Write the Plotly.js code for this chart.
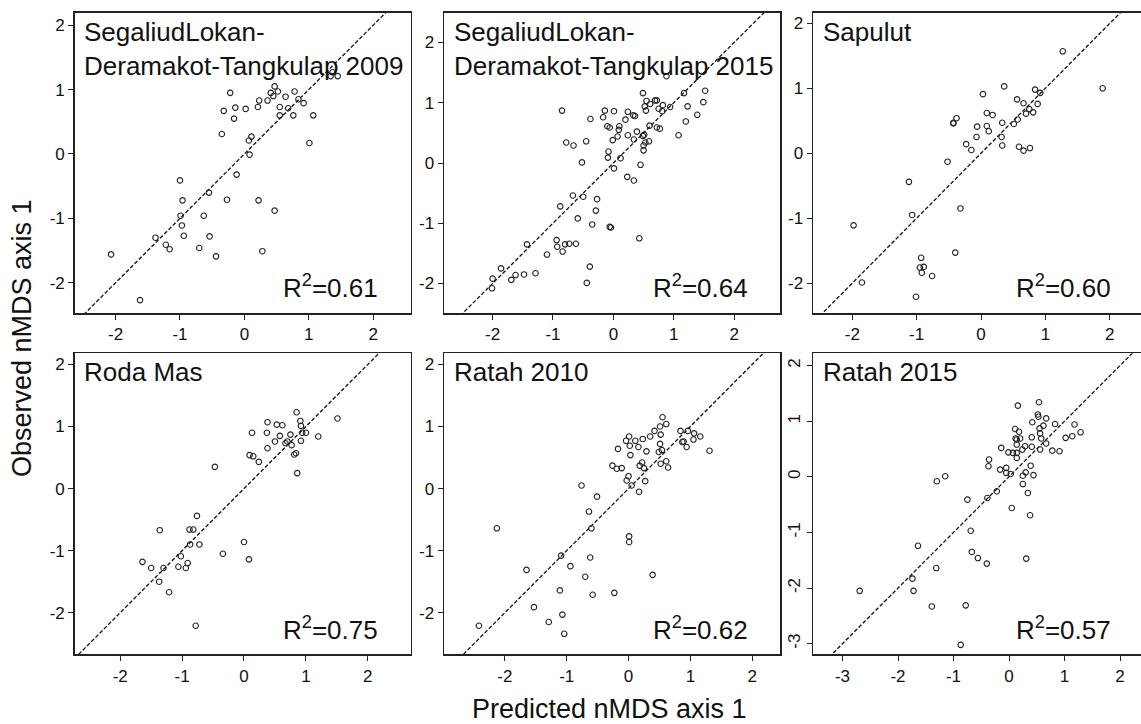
<!DOCTYPE html>
<html>
<head>
<meta charset="utf-8">
<script src="https://cdn.plot.ly/plotly-3.0.1.min.js"></script>
<style>
html,body{margin:0;padding:0;overflow:hidden;background:#fff;}
#chart{width:1150px;height:724px;}
</style>
</head>
<body>
<div id="chart"></div>
<script>
// Panel titles and R2 labels
const panelTitles = [
  "SegaliudLokan-<br>Deramakot-Tangkulap 2009",
  "SegaliudLokan-<br>Deramakot-Tangkulap 2015",
  "Sapulut",
  "Roda Mas",
  "Ratah 2010",
  "Ratah 2015"
];
const r2Values = ["0.61", "0.64", "0.60", "0.75", "0.62", "0.57"];

// Panel 1: SegaliudLokan-Deramakot-Tangkulap 2009 (predicted, observed)
const p1x = [-2.07,-1.62,-1.38,-1.22,-1.16,-1.00,-0.96,-0.99,-0.97,-0.94,-0.70,-0.63,-0.55,-0.54,-0.44,-0.35,-0.32,-0.22,-0.27,-0.16,-0.14,-0.12,0.07,0.11,0.08,0.02,0.21,0.23,0.22,0.28,0.36,0.41,0.45,0.47,0.52,0.47,0.55,0.55,0.64,0.68,0.76,0.78,0.84,0.92,1.01,1.07,1.34,1.45,1.37];
const p1y = [-1.56,-2.27,-1.30,-1.41,-1.48,-0.41,-0.72,-0.96,-1.11,-1.27,-1.46,-0.96,-0.60,-1.28,-1.59,0.31,0.67,0.95,-0.71,0.55,0.72,-0.32,0.21,0.27,-0.01,0.70,0.73,0.83,-0.72,-1.51,0.83,0.95,0.90,1.05,0.97,-0.88,0.73,0.60,0.89,0.71,0.60,0.97,0.85,0.79,0.17,0.60,1.21,1.21,1.27];

// Panel 2: SegaliudLokan-Deramakot-Tangkulap 2015
const p2x = [-2.00,-2.01,-1.86,-1.69,-1.62,-1.48,-1.29,-1.43,-1.10,-0.94,-0.93,-0.84,-0.80,-0.73,-0.62,-0.88,-0.85,-0.78,-0.66,-0.67,-0.50,-0.59,-0.52,-0.45,-0.38,-0.27,-0.29,-0.35,-0.39,-0.44,-0.17,-0.14,-0.10,-0.06,-0.08,-0.09,-0.06,-0.04,0.01,-0.01,0.01,0.07,0.09,0.10,0.12,0.20,0.24,0.24,0.23,0.33,0.36,0.34,0.34,0.39,0.45,0.49,0.49,0.51,0.50,0.50,0.52,0.55,0.54,0.53,0.59,0.60,0.61,0.69,0.72,0.72,0.77,0.75,0.82,0.81,0.88,0.94,1.08,1.17,1.20,1.23,1.39,1.49,1.52,0.43];
const p2y = [-1.92,-2.08,-1.75,-1.94,-1.86,-1.85,-1.83,-1.35,-1.52,-1.28,-1.39,-1.47,-1.35,-1.34,-1.34,-0.72,0.87,0.34,0.29,-0.54,-0.56,-0.92,0.01,0.36,0.73,-0.60,-0.79,-1.02,-1.72,-1.99,0.76,0.87,0.61,0.59,0.19,0.09,-1.06,-1.07,0.86,0.38,-0.09,0.44,0.55,0.61,0.08,0.72,0.85,0.46,-0.23,0.79,0.78,0.39,-0.29,0.52,-0.03,1.16,0.45,0.47,0.29,0.21,0.94,1.03,0.87,0.34,0.36,0.62,0.98,1.04,1.04,0.59,0.57,0.90,0.96,0.86,1.44,0.93,0.46,1.16,0.69,0.94,0.80,1.01,1.20,-1.25];

// Panel 3: Sapulut
const p3x = [-1.98,-1.85,-1.12,-1.07,-0.93,-0.95,-0.89,-0.92,-0.76,-1.01,-0.52,-0.43,-0.38,-0.32,-0.40,-0.23,-0.15,-0.07,-0.06,0.03,0.09,0.09,0.12,0.18,0.32,0.33,0.33,0.36,0.51,0.57,0.56,0.59,0.66,0.76,0.66,0.70,0.75,0.81,0.84,0.92,0.88,1.27,1.89,-0.43];
const p3y = [-1.11,-1.99,-0.44,-0.95,-1.61,-1.76,-1.75,-1.84,-1.89,-2.21,-0.13,0.46,0.54,-0.85,-1.53,0.14,0.05,0.25,0.41,0.91,0.62,0.42,0.34,0.59,0.25,0.12,0.47,1.03,0.45,0.52,0.83,0.10,0.04,0.08,0.77,0.61,0.68,0.63,0.98,0.93,0.76,1.57,1.00,0.47];

// Panel 4: Roda Mas
const p4x = [-1.64,-1.50,-1.36,-1.30,-1.37,-1.21,-1.06,-1.02,-0.94,-0.91,-0.88,-0.82,-0.87,-0.72,-0.76,-0.78,-0.47,-0.34,0.00,0.08,0.09,0.15,0.13,0.24,0.38,0.37,0.38,0.50,0.53,0.62,0.58,0.67,0.70,0.75,0.77,0.81,0.84,0.85,0.86,0.91,0.92,0.92,0.94,1.00,1.20,1.51];
const p4y = [-1.18,-1.28,-0.67,-1.28,-1.50,-1.67,-1.26,-1.09,-1.28,-1.20,-0.66,-0.66,-0.90,-0.90,-0.44,-2.21,0.35,-1.05,-0.86,-1.14,0.54,0.52,0.90,0.43,0.65,0.90,1.07,0.76,1.03,1.02,0.85,0.73,0.76,0.87,0.70,0.55,0.57,1.23,0.25,1.09,1.01,0.77,0.90,0.90,0.84,1.13];

// Panel 5: Ratah 2010
const p5x = [-2.42,-2.13,-1.65,-1.53,-1.29,-1.11,-1.07,-1.04,-1.09,-0.94,-0.76,-0.70,-0.64,-0.60,-0.62,-0.58,-0.51,-0.23,-0.26,-0.19,-0.11,-0.17,-0.04,0.01,0.02,0.03,-0.03,0.00,0.05,0.01,0.01,0.11,0.16,0.23,0.22,0.18,0.25,0.29,0.17,0.27,0.35,0.42,0.39,0.51,0.55,0.61,0.52,0.51,0.49,0.54,0.52,0.61,0.64,0.84,0.87,0.89,0.96,1.05,1.06,0.94,1.16,1.31];
const p5y = [-2.21,-0.64,-1.31,-1.91,-2.15,-1.64,-2.03,-2.34,-1.08,-1.25,0.05,-1.42,-0.37,-0.64,-1.11,-1.71,-0.13,-1.68,0.37,0.32,0.33,0.64,0.77,0.84,0.69,0.54,0.13,0.20,0.05,-0.77,-0.86,0.77,0.67,0.80,0.42,0.37,0.33,0.60,-0.05,0.12,0.84,0.93,-1.39,1.00,1.15,1.04,0.87,0.72,0.59,0.62,0.40,0.44,0.34,0.93,0.75,0.76,0.93,0.79,0.89,0.67,0.84,0.61];

// Panel 6: Ratah 2015
const p6x = [-2.69,-1.64,-1.74,-1.72,-1.39,-1.31,-1.30,-1.15,-0.87,-0.78,-0.75,-0.69,-0.67,-0.56,-0.40,-0.39,-0.37,-0.36,-0.22,-0.16,-0.14,-0.05,-0.05,-0.01,0.03,0.05,0.07,0.11,0.12,0.14,0.14,0.14,0.14,0.18,0.16,0.20,0.24,0.25,0.25,0.29,0.30,0.31,0.34,0.38,0.39,0.41,0.41,0.42,0.44,0.52,0.53,0.54,0.55,0.56,0.56,0.58,0.62,0.67,0.67,0.78,0.83,0.91,1.02,1.14,1.18,1.29];
const p6y = [-2.05,-1.24,-1.83,-2.05,-2.33,-1.64,-0.08,0.01,-3.02,-2.31,-0.41,-0.97,-1.35,-1.46,-1.56,-0.38,0.19,0.31,-0.26,0.13,0.52,0.16,0.07,0.44,0.05,-0.56,0.43,0.86,0.69,0.34,0.43,0.58,0.67,0.81,1.28,0.69,0.49,0.02,-0.13,0.55,0.08,-1.47,-0.29,-0.69,0.20,0.54,0.71,0.98,0.03,1.12,1.08,1.34,0.87,0.78,0.49,0.69,0.92,1.05,0.60,0.47,0.95,0.46,0.70,0.73,0.94,0.80];

// Tick values
const ticks5 = [-2, -1, 0, 1, 2];
const ticks6 = [-3, -2, -1, 0, 1, 2];

const W = 1150, H = 724;
const xs = [p1x, p2x, p3x, p4x, p5x, p6x];
const ys = [p1y, p2y, p3y, p4y, p5y, p6y];

// layout geometry (pixels)
const colPx = [[75, 410.5], [444.3, 780], [813.3, 1143]];
const rowPx = [[13, 313], [353.3, 654.3]];
const xRanges = [[-2.63, 2.58], [-2.80, 2.76], [-2.606, 2.517], [-2.73, 2.69], [-2.98, 2.45], [-3.526, 2.414]];
const yRanges = [[-2.47, 2.19], [-2.49, 2.49], [-2.46, 2.16], [-2.67, 2.18], [-2.67, 2.18], [-3.19, 2.22]];

const FONT = "Liberation Sans, Arial, Helvetica, sans-serif";
const traces = [];
const layout = {
  width: W, height: H,
  margin: {l: 0, r: 0, t: 0, b: 0},
  paper_bgcolor: "#fff", plot_bgcolor: "#fff",
  showlegend: false,
  font: {family: FONT, color: "#111", size: 17},
  annotations: []
};

for (let i = 0; i < 6; i++) {
  const r = Math.floor(i / 3), c = i % 3;
  const sfx = i === 0 ? "" : String(i + 1);
  const xa = "x" + sfx, ya = "y" + sfx;
  traces.push({
    x: [-5, 5], y: [-5, 5], xaxis: xa, yaxis: ya,
    mode: "lines", type: "scatter", hoverinfo: "skip",
    line: {color: "#111", width: 1.3, dash: "4px,2px"}
  });
  traces.push({
    x: xs[i], y: ys[i], xaxis: xa, yaxis: ya,
    mode: "markers", type: "scatter",
    marker: {symbol: "circle-open", size: 5.5, color: "#222", line: {width: 1.1, color: "#222"}}
  });
  const tv = i === 5 ? ticks6 : ticks5;
  layout["xaxis" + sfx] = {
    domain: [colPx[c][0] / W, colPx[c][1] / W],
    range: xRanges[i], anchor: ya,
    tickmode: "array", tickvals: tv, ticktext: tv.map(String),
    ticks: "outside", ticklen: 5, tickwidth: 1, tickcolor: "#222",
    showline: true, mirror: true, linecolor: "#222", linewidth: 1.8,
    showgrid: false, zeroline: false,
    tickfont: {family: FONT, size: 17, color: "#111"}
  };
  layout["yaxis" + sfx] = {
    domain: [1 - rowPx[r][1] / H, 1 - rowPx[r][0] / H],
    range: yRanges[i], anchor: xa,
    tickmode: "array", tickvals: tv, ticktext: tv.map(String),
    ticks: "outside", ticklen: 5, tickwidth: 1, tickcolor: "#222",
    tickangle: i === 5 ? -90 : 0,
    showline: true, mirror: true, linecolor: "#222", linewidth: 1.8,
    showgrid: false, zeroline: false,
    tickfont: {family: FONT, size: 17, color: "#111"}
  };
  layout.annotations.push({
    xref: xa + " domain", yref: ya + " domain",
    x: 0.022, y: 0.995, xanchor: "left", yanchor: "top", align: "left",
    showarrow: false, text: panelTitles[i],
    font: {family: FONT, size: 26, color: "#111"}
  });
  layout.annotations.push({
    xref: xa + " domain", yref: ya + " domain",
    x: 0.91, y: 0.025, xanchor: "right", yanchor: "bottom",
    showarrow: false, text: "R<sup>2</sup>=" + r2Values[i],
    font: {family: FONT, size: 26, color: "#111"}
  });
}

layout.annotations.push({
  xref: "paper", yref: "paper", x: 22 / W, y: 1 - 338 / H,
  xanchor: "center", yanchor: "middle", textangle: -90, showarrow: false,
  text: "Observed nMDS axis 1", font: {family: FONT, size: 27, color: "#111"}
});
layout.annotations.push({
  xref: "paper", yref: "paper", x: 609 / W, y: 1 - 709 / H,
  xanchor: "center", yanchor: "middle", showarrow: false,
  text: "Predicted nMDS axis 1", font: {family: FONT, size: 27, color: "#111"}
});

Plotly.newPlot("chart", traces, layout, {staticPlot: true, displayModeBar: false});
</script>
</body>
</html>
